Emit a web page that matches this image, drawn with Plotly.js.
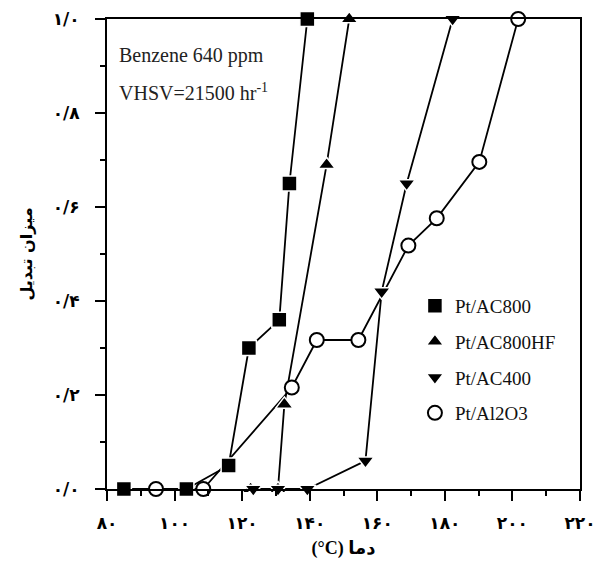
<!DOCTYPE html>
<html>
<head>
<meta charset="utf-8">
<script src="https://cdn.plot.ly/plotly-3.0.1.min.js"></script>
<style>html,body{margin:0;padding:0;background:#fff;}#chart{width:604px;height:569px;}</style>
</head>
<body>
<div id="chart"></div>
<script>
// Data
var seriesNames = ["Pt/AC800", "Pt/AC800HF", "Pt/AC400", "Pt/Al2O3"];
var ac800X = [85, 103.5, 116, 122, 131, 134, 139.3];
var ac800Y = [0, 0, 0.05, 0.30, 0.36, 0.65, 1.0];
var ac800hfX = [122.5, 130.6, 132.5, 145, 151.7];
var ac800hfY = [0, 0, 0.18, 0.69, 1.0];
var ac400X = [123.3, 130.6, 139.3, 156.5, 161.3, 168.7, 182.3];
var ac400Y = [0, 0, 0, 0.06, 0.42, 0.65, 1.0];
var al2o3X = [94.5, 108.5, 134.7, 142.1, 154.4, 169.2, 177.6, 190.2, 201.7];
var al2o3Y = [0, 0, 0.216, 0.317, 0.317, 0.518, 0.576, 0.696, 1.0];

var xTickVals = [80, 100, 120, 140, 160, 180, 200, 220];
var xTickText = ["۸۰", "۱۰۰", "۱۲۰", "۱۴۰", "۱۶۰", "۱۸۰", "۲۰۰", "۲۲۰"];
var yTickVals = [0, 0.2, 0.4, 0.6, 0.8, 1.0];
var yTickText = ["۰/۰", "۰/۲", "۰/۴", "۰/۶", "۰/۸", "۱/۰"];

var xs = [ac800X, ac800hfX, ac400X, al2o3X];
var ys = [ac800Y, ac800hfY, ac400Y, al2o3Y];
var symbols = ["square", "triangle-up", "triangle-down", "circle"];
var sizes = [15, 15, 15, 14];

function bold(arr) { return arr.map(function (s) { return "<b>" + s + "</b>"; }); }

var traces = [];
for (var i = 0; i < 4; i++) {
  traces.push({
    x: xs[i], y: ys[i], type: "scatter", mode: "lines",
    line: {color: "#000", width: 1.8},
    showlegend: false, hoverinfo: "skip", cliponaxis: false
  });
}
for (var j = 0; j < 4; j++) {
  var isOpen = (j === 3);
  traces.push({
    x: xs[j], y: ys[j], type: "scatter", mode: "markers",
    name: seriesNames[j], legendgroup: "g" + j,
    marker: {
      symbol: symbols[j], size: sizes[j],
      color: isOpen ? "#fff" : "#000",
      line: isOpen ? {color: "#000", width: 2} : {color: "#fff", width: 1.5}
    },
    cliponaxis: false
  });
}

var tickFont = {family: "DejaVu Sans, sans-serif", size: 17, color: "#000"};

var layout = {
  width: 604, height: 569,
  margin: {l: 107, r: 24, t: 19, b: 80},
  paper_bgcolor: "#fff", plot_bgcolor: "#fff",
  showlegend: true,
  legend: {
    x: 0.651, y: 0.43, xanchor: "left", yanchor: "top",
    font: {family: "Liberation Serif, Times New Roman, serif", size: 19, color: "#111"},
    tracegroupgap: 8, traceorder: "grouped",
    bgcolor: "rgba(0,0,0,0)", borderwidth: 0
  },
  xaxis: {
    range: [80, 220], showgrid: false, zeroline: false,
    showline: true, linecolor: "#000", linewidth: 2, mirror: true,
    ticks: "outside", ticklen: 10, tickwidth: 2, tickcolor: "#000",
    tickvals: xTickVals, ticktext: bold(xTickText), tickfont: tickFont,
    ticklabelstandoff: 8,
    minor: {dtick: 10, tick0: 80, ticks: "outside", ticklen: 5, tickwidth: 2, tickcolor: "#000", showgrid: false},
    title: {text: "<b>(°C) دما</b>", font: {family: "Liberation Serif, DejaVu Sans, serif", size: 18, color: "#000"}, standoff: 9}
  },
  yaxis: {
    range: [0, 1], showgrid: false, zeroline: false,
    showline: true, linecolor: "#000", linewidth: 2, mirror: true,
    ticks: "outside", ticklen: 10, tickwidth: 2, tickcolor: "#000",
    tickvals: yTickVals, ticktext: bold(yTickText), tickfont: tickFont,
    ticklabelstandoff: 12,
    minor: {dtick: 0.1, tick0: 0, ticks: "outside", ticklen: 5, tickwidth: 2, tickcolor: "#000", showgrid: false},
    title: {text: "<b>میزان تبدیل</b>", font: {family: "DejaVu Sans, sans-serif", size: 16, color: "#000"}, standoff: 16}
  },
  annotations: [
    {xref: "paper", yref: "paper", x: 0.022, y: 0.923, xanchor: "left", yanchor: "middle",
     text: "Benzene 640 ppm", showarrow: false,
     font: {family: "Liberation Serif, Times New Roman, serif", size: 20, color: "#222"}},
    {xref: "paper", yref: "paper", x: 0.022, y: 0.845, xanchor: "left", yanchor: "middle",
     text: "VHSV=21500 hr<sup>-1</sup>", showarrow: false,
     font: {family: "Liberation Serif, Times New Roman, serif", size: 20, color: "#222"}}
  ]
};

Plotly.newPlot("chart", traces, layout, {displayModeBar: false, staticPlot: true});
</script>
</body>
</html>
